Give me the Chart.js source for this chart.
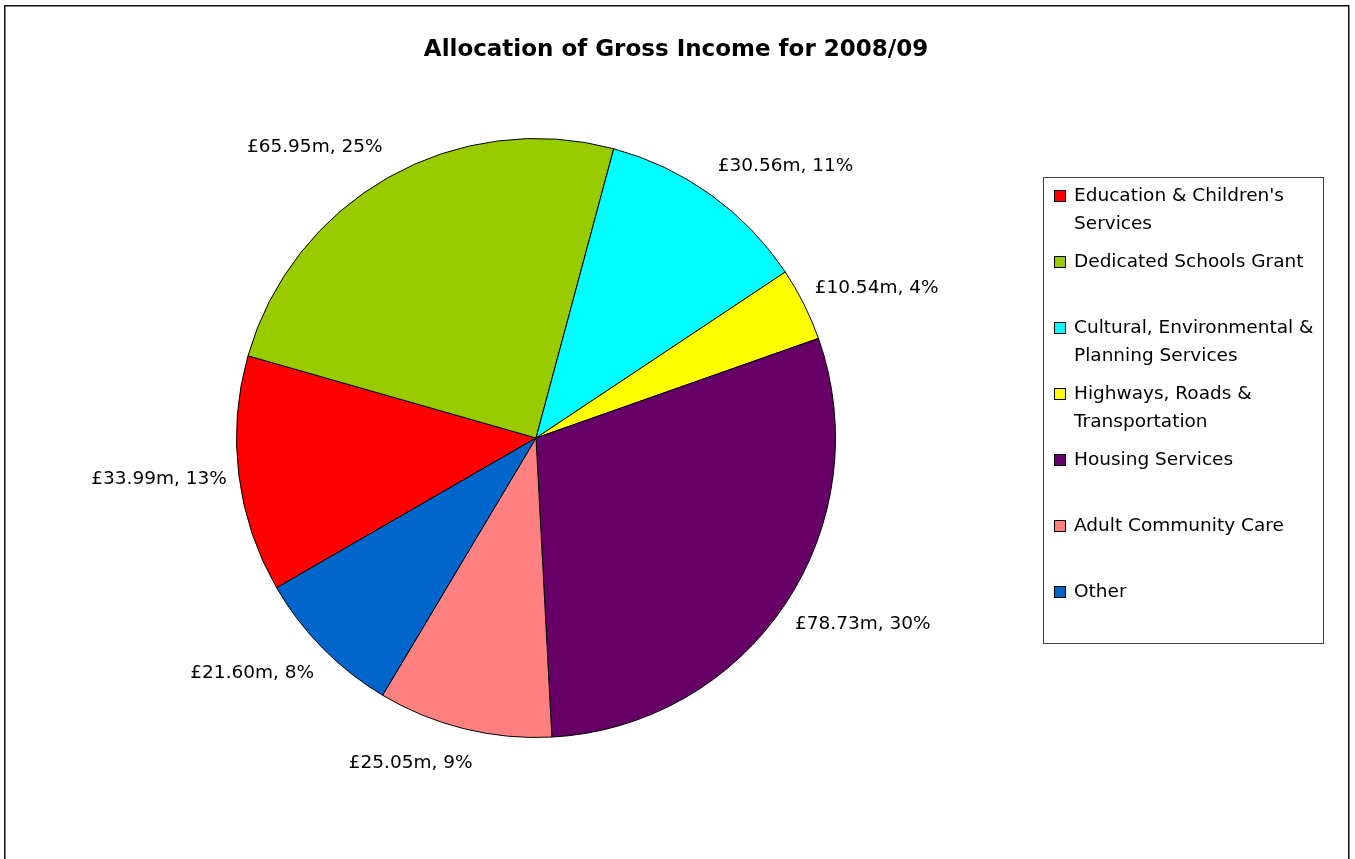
<!DOCTYPE html>
<html>
<head>
<meta charset="utf-8">
<script src="https://cdn.jsdelivr.net/npm/chart.js@4/dist/chart.umd.min.js"></script>
<style>
  html, body { margin: 0; padding: 0; background: #fff; }
  #wrap { position: relative; width: 1355px; height: 859px; }
</style>
</head>
<body>
<div id="wrap"><canvas id="pie_chart"></canvas></div>
<script>
const chart_title = "Allocation of Gross Income for 2008/09";

const categories = [
  "Education & Children's Services",
  "Dedicated Schools Grant",
  "Cultural, Environmental & Planning Services",
  "Highways, Roads & Transportation",
  "Housing Services",
  "Adult Community Care",
  "Other"
];
// £ millions
const amounts = [33.99, 65.95, 30.56, 10.54, 78.73, 25.05, 21.60];
const colours = ["#ff0000", "#99cc00", "#00ffff", "#ffff00", "#660066", "#ff8080", "#0066cc"];

const FONT = "'DejaVu Sans', sans-serif";
const total = amounts.reduce((a, b) => a + b, 0);

// value labels round the pie, like "£33.99m, 13%"
const labelsPlugin = {
  id: 'sliceLabels',
  afterDatasetsDraw(chart) {
    const ctx = chart.ctx;
    const meta = chart.getDatasetMeta(0);
    ctx.save();
    ctx.font = "18.5px " + FONT;
    ctx.fillStyle = "#000";
    ctx.textAlign = "center";
    ctx.textBaseline = "middle";
    meta.data.forEach((arc, i) => {
      const text = "£" + amounts[i].toFixed(2) + "m, " + Math.round(amounts[i] / total * 100) + "%";
      const w = ctx.measureText(text).width;
      const mid = (arc.startAngle + arc.endAngle) / 2;
      const dx = Math.cos(mid), dy = Math.sin(mid);
      const px = arc.x + dx * arc.outerRadius;
      const py = arc.y + dy * arc.outerRadius;
      const k = Math.max(-1, Math.min(1, dx * 3.4));
      ctx.fillText(text, px + dx * 12 + k * w / 2, py + dy * 35);
    });
    ctx.restore();
  }
};

// title, legend box and the outer frame
const frameLegendPlugin = {
  id: 'frameLegend',
  afterDraw(chart) {
    const ctx = chart.ctx;
    ctx.save();
    ctx.strokeStyle = "#111";
    ctx.lineWidth = 1.5;
    ctx.strokeRect(4.75, 5.75, 1344, 900);

    ctx.fillStyle = "#000";
    ctx.font = "bold 23px " + FONT;
    ctx.textAlign = "center";
    ctx.textBaseline = "middle";
    ctx.fillText(chart_title, 676, 50);

    // legend
    ctx.lineWidth = 1;
    ctx.strokeStyle = "#444";
    ctx.strokeRect(1043.5, 177.5, 280, 466);
    ctx.font = "18.5px " + FONT;
    ctx.textAlign = "left";
    categories.forEach((name, i) => {
      const y = 196 + i * 66;
      ctx.fillStyle = colours[i];
      ctx.fillRect(1054.5, y - 5.5, 11, 11);
      ctx.strokeStyle = "#000";
      ctx.strokeRect(1054.5, y - 5.5, 11, 11);
      // wrap the name into lines
      const words = name.split(" ");
      let lines = [], line = "";
      words.forEach(word => {
        const test = line ? line + " " + word : word;
        if (ctx.measureText(test).width > 250 && line) {
          lines.push(line);
          line = word;
        } else {
          line = test;
        }
      });
      lines.push(line);
      ctx.fillStyle = "#000";
      lines.forEach((l, j) => ctx.fillText(l, 1074, y + j * 28));
    });
    ctx.restore();
  }
};

new Chart(document.getElementById("pie_chart"), {
  type: 'pie',
  data: {
    labels: categories,
    datasets: [{
      data: amounts,
      backgroundColor: colours,
      borderColor: "#000",
      borderWidth: 1
    }]
  },
  options: {
    responsive: true,
    maintainAspectRatio: false,
    animation: false,
    events: [],
    rotation: 240,
    layout: {
      padding: { left: 236, right: 519, top: 138, bottom: 121 }
    },
    plugins: {
      legend: { display: false },
      title: { display: false },
      tooltip: { enabled: false }
    }
  },
  plugins: [labelsPlugin, frameLegendPlugin]
});
</script>
</body>
</html>
